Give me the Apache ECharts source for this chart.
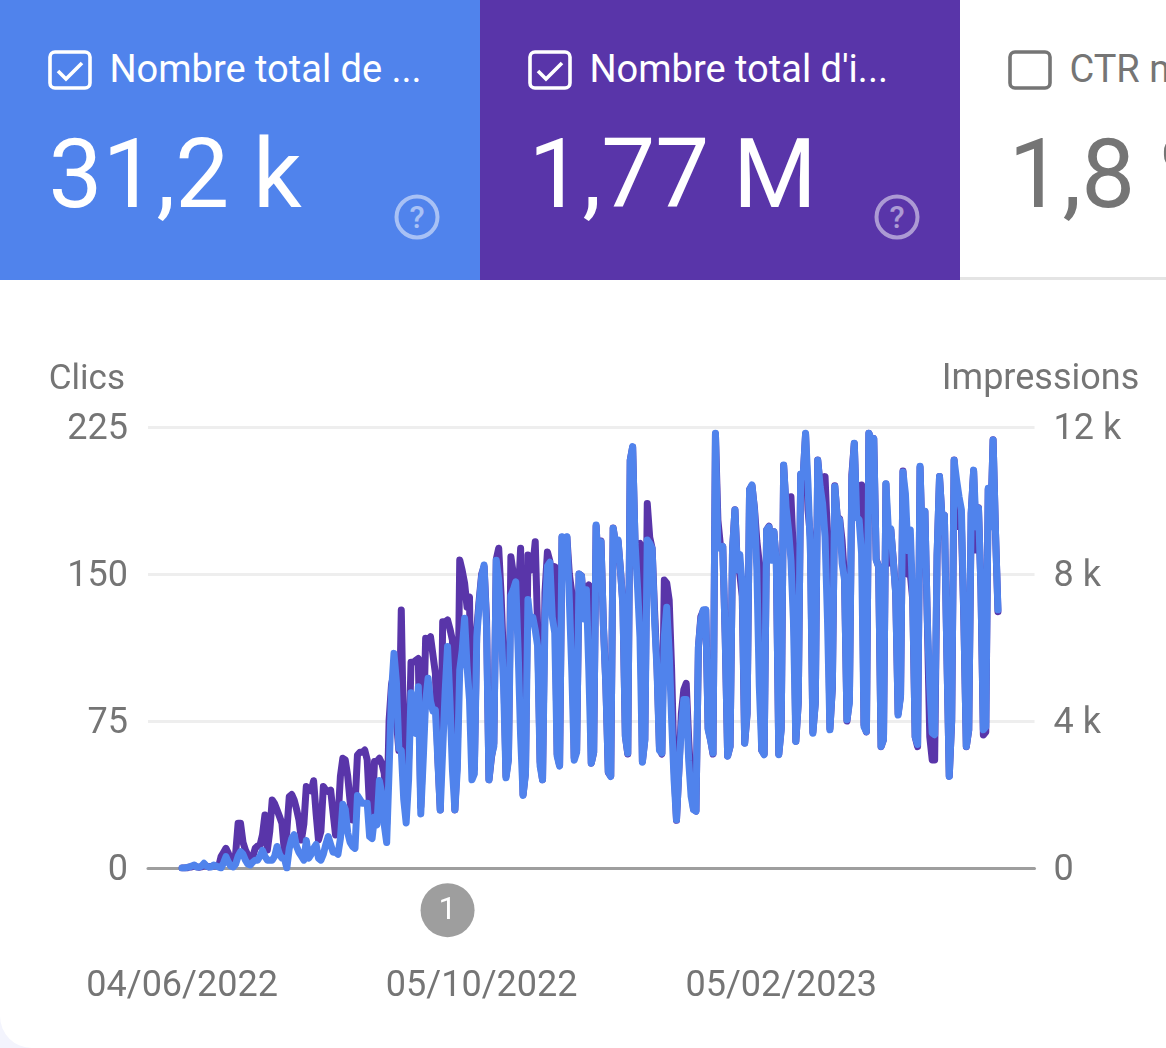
<!DOCTYPE html>
<html>
<head>
<meta charset="utf-8">
<title>Clics et impressions</title>
<script src="https://cdn.jsdelivr.net/npm/echarts@6/dist/echarts.min.js"></script>
<style>
    html, body { margin: 0; padding: 0; background: #f3f4fd; }
    #page { position: relative; width: 1166px; height: 1048px; overflow: hidden; background: #fff;
            border-bottom-left-radius: 32px; font-family: Roboto, sans-serif; }
    #chart { position: absolute; left: 0; top: 0; width: 1166px; height: 1048px; }
    .card { position: absolute; top: 0; width: 480px; height: 280px; box-sizing: border-box; overflow: hidden; color: #fff; }
    .card .box { position: absolute; left: 48px; top: 50px; width: 44px; height: 40px; }
    .card .name { position: absolute; left: 109.5px; top: 47px; font-size: 38px; line-height: 44px; white-space: nowrap; }
    .card .num { position: absolute; left: 48.5px; top: 117px; font-size: 96px; line-height: 115px; font-weight: 400; white-space: nowrap; }
    .card .help { position: absolute; left: 394px; top: 194px; width: 46px; height: 46px; opacity: .5; }
    #cardClicks { left: 0; background: #5083ec; }
    #cardImpr { left: 480px; background: #5935a9; }
    #cardCtr { left: 960px; width: 206px; color: #757575; background: #fff; border-bottom: 3px solid #e4e4e4; }
</style>
</head>
<body>
<div id="page">
    <div id="chart"></div>
    <div class="card" id="cardClicks">
        <svg class="box" viewBox="0 0 44 40"><rect x="2" y="2" width="40" height="36" rx="5" fill="none" stroke="#fff" stroke-width="3.6"/><path d="M10 21l8 8 16-16" fill="none" stroke="#fff" stroke-width="3.6"/></svg>
        <div class="name">Nombre total de ...</div>
        <div class="num">31,2 k</div>
        <svg class="help" viewBox="0 0 46 46"><circle cx="23" cy="23" r="20.5" fill="none" stroke="#fff" stroke-width="4"/><text x="23" y="34" font-size="31" font-weight="500" fill="#fff" text-anchor="middle" font-family="Roboto">?</text></svg>
    </div>
    <div class="card" id="cardImpr">
        <svg class="box" viewBox="0 0 44 40"><rect x="2" y="2" width="40" height="36" rx="5" fill="none" stroke="#fff" stroke-width="3.6"/><path d="M10 21l8 8 16-16" fill="none" stroke="#fff" stroke-width="3.6"/></svg>
        <div class="name">Nombre total d'i...</div>
        <div class="num">1,77 M</div>
        <svg class="help" viewBox="0 0 46 46"><circle cx="23" cy="23" r="20.5" fill="none" stroke="#fff" stroke-width="4"/><text x="23" y="34" font-size="31" font-weight="500" fill="#fff" text-anchor="middle" font-family="Roboto">?</text></svg>
    </div>
    <div class="card" id="cardCtr">
        <svg class="box" viewBox="0 0 44 40"><rect x="2" y="2" width="40" height="36" rx="5" fill="none" stroke="#757575" stroke-width="3.6"/></svg>
        <div class="name">CTR moyen</div>
        <div class="num">1,8 %</div>
    </div>
</div>
<script>
// axe des dates : 04/06/2022 est le premier jour avec des donnees
var firstDay = Date.UTC(2022, 5, 4);
var padBefore = 14;
var padAfter = 15;
var tickLabels = ['04/06/2022', '05/10/2022', '05/02/2023'];

// annotation grise sous l'axe
var annotationDate = ['21/09/2022'];
var annotationValue = [-21.5];
var annotationText = ['1'];

// clics par jour (axe de gauche)
var clicks = [
    0, 0, 0.3, 0.5, 1, 1.5, 0.5, 0.5, 1, 2.4, 1, 0.5, 0.5, 1.5, 1, 0.5, 0, 2.5, 5.8, 3, 1,
    0.5, 2, 6, 8.3, 7, 4, 2, 1.5, 3, 4, 4, 6, 9, 6, 4, 4, 4, 6, 11, 7, 5,
    5, 0, 10, 15, 17, 11, 8, 6, 4, 14, 5, 7, 10, 12, 5, 4, 7, 12, 16, 12, 8,
    8, 7, 15, 32.5, 30, 18, 13, 11, 10, 37, 35, 33, 33, 33, 16, 15, 26, 22, 44.6, 38, 22,
    13, 50, 90, 109.5, 95, 61, 60, 35, 23, 45, 89.4, 75, 68.7, 92.5, 27.6, 55, 85, 96.8, 85, 80,
    80.6, 55, 29.6, 60, 90, 113, 85, 50,
    29.7, 50, 101, 111, 127.4, 103, 86, 45, 48, 118, 135, 148.7, 154.6, 123,
    45, 57, 62, 157, 147, 123, 92.6, 46, 55, 139, 142, 146, 110, 67,
    37, 48, 137, 125, 128, 121.5, 113, 52, 45, 126.6, 154, 156, 128, 120,
    57, 52, 169, 157, 169, 137, 101, 55, 59, 150, 149, 127, 142, 101,
    53.5, 59, 175, 149, 166.5, 123, 92.6, 49, 46.7, 173.3, 165.7, 167.4, 152, 133.4,
    67, 58.6, 208, 215, 165.7, 143.6, 118, 54, 65, 167.4, 165.7, 163, 126.6, 101,
    60, 58.6, 118, 133, 110, 75.6, 45, 24.6, 50, 72, 86, 86, 55, 36.5,
    29.7, 29, 113, 126.6, 131.7, 131.7, 70.5, 65, 58.6, 221.8, 164, 163, 164, 118,
    57, 62, 162, 182.7, 152, 160, 143.6, 63.7, 79, 193, 195.5, 182.7, 152, 92.6,
    60, 57.8, 172.5, 174, 157, 171.6, 155.5, 57.8, 70.5, 205.6, 184, 172.5, 157, 126.6,
    64.6, 84, 201, 199.7, 221.8, 196, 160.6, 68.8, 84, 208, 194.6, 186, 169, 126.6,
    70.5, 92.6, 194.6, 179, 177.6, 155.5, 147, 75.6, 84, 198, 216.7, 179, 177.6, 160.6,
    72, 69.6, 221.8, 218.4, 219, 157, 153.8, 62, 65.4, 196, 172.5, 173, 157, 140,
    78, 87.5, 202, 191, 162, 172.5, 137, 67, 63, 205, 160.6, 182, 126.6, 92.6,
    68.8, 68, 160, 199.7, 179, 180, 110, 46.7, 75.6, 208, 198, 189.5, 182.7, 126.6,
    62, 70.5, 181, 203, 174, 183.5, 143.6, 70.5, 72, 193.7, 174, 218.4, 171, 131.7
];

// impressions par jour (axe de droite)
var impressions = [
    0, 0, 0, 30, 30, 60, 30, 20, 30, 60, 50, 30, 40, 60, 50, 40, 310, 420, 535, 400, 200,
    80, 400, 1215, 1215, 700, 490, 350, 170, 300, 535, 600, 625, 900, 1440, 490, 1000, 1850, 1750, 1580, 1400, 1215,
    445, 1000, 1940, 2000, 1850, 1600, 1300, 760, 1200, 2215, 2120, 2100, 2375, 1500, 760, 1000, 2215, 2120, 2080, 2120, 1500,
    900, 1300, 2500, 2985, 2940, 2500, 1800, 1305, 1700, 3075, 3150, 3150, 3210, 2940, 1600, 1400, 2895, 2900, 2985, 2850, 2575,
    1200, 4025, 5000, 5300, 4000, 3200, 7020, 3300, 1800, 3000, 5600, 5600, 5650, 5700, 1670, 3500, 6250, 6200, 6295, 5800,
    5300, 3000, 1580, 6700, 6700, 6750, 6500, 6200,
    1580, 3000, 8380, 8100, 7750, 7100, 7380, 2850, 2700, 6500, 7300, 8000, 8200, 6800,
    2400, 3000, 3400, 8400, 8700, 7400, 5600, 2500, 3000, 8470, 8000, 7800, 7300, 8700,
    2000, 2600, 8520, 8100, 8200, 8880, 6500, 2900, 2400, 7500, 8600, 8350, 7800, 8200,
    3100, 2800, 9000, 8400, 9000, 8000, 7500, 3000, 3200, 8000, 7950, 7100, 7600, 7700,
    2850, 3150, 9300, 8000, 8900, 6600, 5000, 2600, 2500, 9250, 8800, 8900, 8100, 7200,
    3600, 3100, 11100, 11450, 8800, 8800, 8830, 2900, 3500, 9920, 9000, 8700, 7000, 5500,
    3300, 3100, 7835, 7750, 7290, 5400, 2800, 1300, 2700, 4200, 4850, 5025, 3500, 2300,
    1600, 1550, 6000, 6840, 7000, 7020, 3800, 3500, 3100, 11800, 9470, 8800, 8750, 6300,
    3050, 3300, 8650, 9750, 8200, 8000, 7400, 3400, 4200, 10300, 10400, 9800, 8900, 8290,
    3200, 3100, 9200, 9300, 8400, 9150, 8300, 3100, 3800, 10950, 9800, 9600, 10100, 8560,
    3450, 4500, 10700, 10650, 11800, 9740, 9000, 3700, 4500, 11100, 10400, 10000, 10650, 9000,
    3800, 4900, 10400, 9550, 9500, 8900, 7900, 4000, 4600, 10700, 11550, 9550, 9500, 10420,
    3900, 3700, 11830, 11650, 11680, 8400, 8200, 3300, 3500, 10450, 8290, 9200, 8400, 7500,
    4200, 4700, 10800, 9470, 8000, 8000, 7300, 3570, 3300, 10900, 8600, 9700, 6700, 3570,
    2940, 2940, 8500, 10650, 9550, 9600, 5900, 2500, 4000, 11100, 9290, 9290, 9300, 6750,
    3300, 3750, 9650, 10800, 8650, 9800, 7650, 3620, 3700, 10300, 9290, 11650, 9100, 6975
];

function pad2(n) {
    return (n < 10 ? '0' : '') + n;
}

function padSeries(values) {
    var out = [];
    var i;
    for (i = 0; i < padBefore; i++) { out.push(null); }
    out = out.concat(values);
    for (i = 0; i < padAfter; i++) { out.push(null); }
    return out;
}

var total = padBefore + clicks.length + padAfter;
var dates = [];
for (var i = 0; i < total; i++) {
    var d = new Date(firstDay + (i - padBefore) * 86400000);
    dates.push(pad2(d.getUTCDate()) + '/' + pad2(d.getUTCMonth() + 1) + '/' + d.getUTCFullYear());
}

var labelColor = '#757575';
var chart = echarts.init(document.getElementById('chart'));
chart.setOption({
    animation: false,
    textStyle: { fontFamily: 'Roboto' },
    grid: { left: 148, right: 131.5, top: 427, bottom: 180, containLabel: false },
    xAxis: {
        type: 'category',
        boundaryGap: false,
        data: dates,
        axisLine: { onZero: false, lineStyle: { color: '#9e9e9e', width: 3 } },
        axisTick: { show: false },
        splitLine: { show: false },
        axisLabel: {
            color: labelColor,
            fontSize: 36,
            margin: 101,
            hideOverlap: false,
            interval: function (index, value) { return tickLabels.indexOf(value) >= 0; }
        }
    },
    yAxis: [{
        type: 'value',
        name: 'Clics',
        nameLocation: 'end',
        nameGap: 29,
        nameTextStyle: { color: labelColor, fontSize: 35, align: 'right', padding: [0, 23, 0, 0] },
        min: 0,
        max: 225,
        interval: 75,
        axisLine: { show: false },
        axisTick: { show: false },
        // le texte est un peu plus bas que la graduation
        axisLabel: { color: labelColor, fontSize: 36, margin: 20, verticalAlign: 'top', lineHeight: 6 },
        splitLine: { lineStyle: { color: '#eeeeee', width: 3 } }
    }, {
        type: 'value',
        name: 'Impressions',
        nameLocation: 'end',
        nameGap: 29,
        nameTextStyle: { color: labelColor, fontSize: 36, align: 'center', padding: [0, 0, 0, 12] },
        min: 0,
        max: 12000,
        interval: 4000,
        axisLine: { show: false },
        axisTick: { show: false },
        axisLabel: {
            color: labelColor,
            fontSize: 36,
            margin: 19,
            verticalAlign: 'top',
            lineHeight: 6,
            formatter: function (v) { return v === 0 ? '0' : (v / 1000) + ' k'; }
        },
        splitLine: { show: false }
    }],
    series: [{
        name: 'Impressions',
        type: 'line',
        yAxisIndex: 1,
        data: padSeries(impressions),
        symbol: 'none',
        sampling: 'none',
        lineStyle: { color: '#5935a9', width: 7, join: 'round', cap: 'round' },
        z: 2
    }, {
        name: 'Clics',
        type: 'line',
        yAxisIndex: 0,
        data: padSeries(clicks),
        symbol: 'none',
        sampling: 'none',
        lineStyle: { color: '#5083ec', width: 7, join: 'round', cap: 'round' },
        z: 3
    }, {
        name: 'Annotations',
        type: 'scatter',
        yAxisIndex: 0,
        clip: false,
        silent: true,
        symbol: 'circle',
        symbolSize: 54,
        data: [[annotationDate[0], annotationValue[0]]],
        itemStyle: { color: '#9e9e9e', opacity: 1 },
        label: {
            show: true,
            position: 'inside',
            offset: [0, 1],
            color: '#fff',
            fontSize: 32,
            formatter: function (p) { return annotationText[p.dataIndex]; }
        },
        z: 4
    }]
});
</script>
</body>
</html>
